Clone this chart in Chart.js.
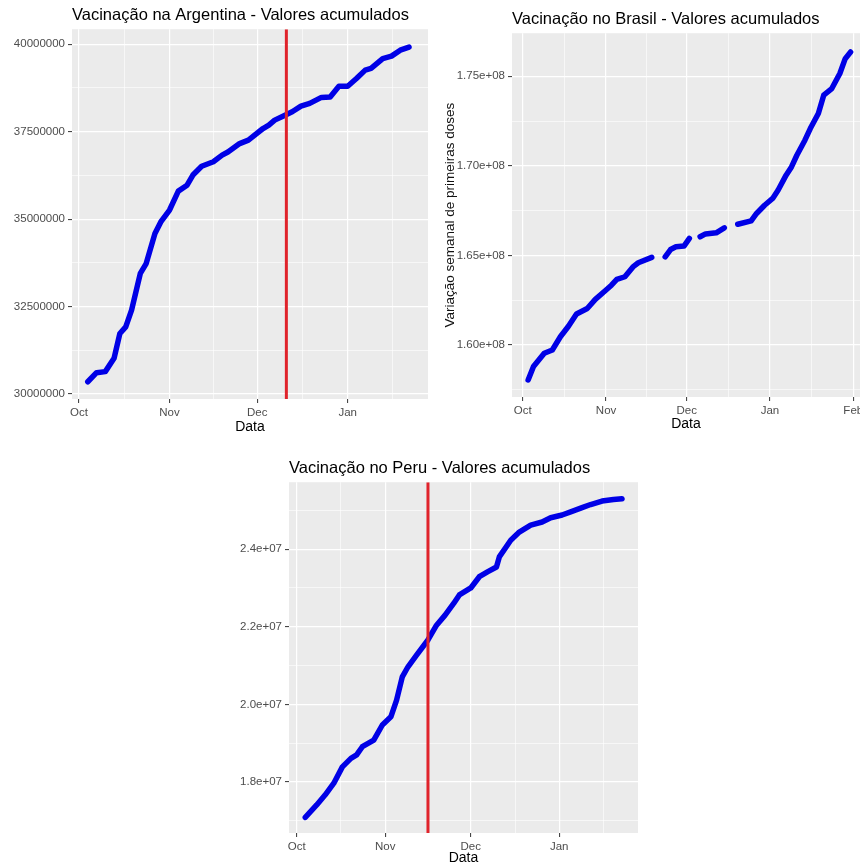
<!DOCTYPE html>
<html>
<head>
<meta charset="utf-8">
<script src="https://cdn.jsdelivr.net/npm/chart.js@4.4.1/dist/chart.umd.min.js"></script>
<style>
  html, body { margin: 0; padding: 0; background: #fff; overflow: hidden; width: 860px; height: 867px; }
  canvas { position: absolute; }
</style>
</head>
<body>
<canvas id="argentina" width="430" height="437" style="left:0px;top:0px"></canvas>
<canvas id="brasil" width="450" height="437" style="left:430px;top:0px"></canvas>
<canvas id="peru" width="420" height="430" style="left:220px;top:437px"></canvas>
<script>
// ---- dados ----
const datasArgentina = ['2021-10-04','2021-10-07','2021-10-10','2021-10-13','2021-10-15','2021-10-17','2021-10-19','2021-10-22','2021-10-24','2021-10-27','2021-10-29',
  '2021-11-01','2021-11-04','2021-11-07','2021-11-09','2021-11-12','2021-11-16','2021-11-19','2021-11-21','2021-11-25','2021-11-28',
  '2021-12-03','2021-12-05','2021-12-07','2021-12-10','2021-12-13','2021-12-16','2021-12-19','2021-12-23','2021-12-26','2021-12-29',
  '2022-01-01','2022-01-04','2022-01-07','2022-01-09','2022-01-13','2022-01-16','2022-01-19','2022-01-22'];
const valoresArgentina = [30350000,30610000,30640000,31020000,31730000,31920000,32400000,33450000,33730000,34590000,34920000,
  35260000,35800000,35970000,36260000,36510000,36640000,36830000,36920000,37160000,37260000,
  37590000,37690000,37830000,37950000,38070000,38230000,38310000,38480000,38490000,38800000,
  38800000,39020000,39260000,39310000,39590000,39660000,39830000,39920000];
const marcoArgentina = '2021-12-11';

// null = dia sem dado (quebra na linha)
const datasBrasil = ['2021-10-03','2021-10-05','2021-10-09','2021-10-12','2021-10-15','2021-10-18','2021-10-21','2021-10-25','2021-10-28',
  '2021-11-01','2021-11-03','2021-11-05','2021-11-08','2021-11-11','2021-11-13','2021-11-18','2021-11-20','2021-11-23','2021-11-25','2021-11-27','2021-11-30',
  '2021-12-02','2021-12-04','2021-12-06','2021-12-08','2021-12-12','2021-12-15','2021-12-17','2021-12-20','2021-12-25','2021-12-27','2021-12-30',
  '2022-01-02','2022-01-04','2022-01-07','2022-01-09','2022-01-11','2022-01-14','2022-01-16','2022-01-19','2022-01-21','2022-01-24','2022-01-27','2022-01-29','2022-01-31'];
const valoresBrasil = [158050000,158800000,159540000,159720000,160460000,161050000,161730000,162040000,162550000,
  163070000,163340000,163660000,163810000,164360000,164590000,164890000,null,164920000,165330000,165480000,165520000,
  165950000,null,166040000,166200000,166260000,166540000,null,166740000,166930000,167340000,167800000,
  168180000,168640000,169480000,169940000,170590000,171430000,172080000,172920000,173940000,174310000,175150000,175980000,176350000];

const datasPeru = ['2021-10-04','2021-10-08','2021-10-11','2021-10-14','2021-10-17','2021-10-20','2021-10-22','2021-10-24','2021-10-28','2021-10-31',
  '2021-11-03','2021-11-05','2021-11-07','2021-11-09','2021-11-12','2021-11-16','2021-11-19','2021-11-22','2021-11-25','2021-11-27',
  '2021-12-01','2021-12-04','2021-12-07','2021-12-10','2021-12-11','2021-12-15','2021-12-18','2021-12-22','2021-12-26','2021-12-29',
  '2022-01-02','2022-01-05','2022-01-09','2022-01-12','2022-01-16','2022-01-20','2022-01-23'];
const valoresPeru = [17090000,17410000,17670000,17970000,18390000,18610000,18700000,18910000,19080000,19470000,
  19680000,20110000,20710000,20970000,21270000,21660000,22040000,22300000,22600000,22820000,
  23000000,23290000,23420000,23540000,23800000,24230000,24440000,24620000,24700000,24810000,
  24880000,24960000,25070000,25150000,25240000,25280000,25300000];
const marcoPeru = '2021-11-16';

const mesesTicks = ['2021-10-01','2021-11-01','2021-12-01','2022-01-01','2022-02-01'];
const mesesLabels = ['Oct','Nov','Dec','Jan','Feb'];

const yTicksArgentina = [30000000,32500000,35000000,37500000,40000000];
const yLabelsArgentina = ['30000000','32500000','35000000','37500000','40000000'];
const yTicksBrasil = [160000000,165000000,170000000,175000000];
const yLabelsBrasil = ['1.60e+08','1.65e+08','1.70e+08','1.75e+08'];
const yTicksPeru = [18000000,20000000,22000000,24000000];
const yLabelsPeru = ['1.8e+07','2.0e+07','2.2e+07','2.4e+07'];

// ---- helpers ----
const inicio = Date.parse('2021-10-01');
function dia(d){ return (Date.parse(d) - inicio) / 86400000; }

Chart.defaults.font.family = '"Liberation Sans", Arial, sans-serif';

// linhas secundárias no meio das principais (como o ggplot faz)
function menores(maiores){
  let res = [];
  for (let i = 0; i < maiores.length - 1; i++) res.push((maiores[i] + maiores[i + 1]) / 2);
  let n = maiores.length;
  res.push(maiores[0] - (maiores[1] - maiores[0]) / 2);
  res.push(maiores[n - 1] + (maiores[n - 1] - maiores[n - 2]) / 2);
  return res;
}

function montarTicks(scale, maiores, labels){
  let ticks = maiores.map((v, i) => ({value: v, texto: labels[i], principal: true}));
  menores(maiores).forEach(v => ticks.push({value: v, texto: '', principal: false}));
  scale.ticks = ticks.filter(t => t.value >= scale.min && t.value <= scale.max).sort((a, b) => a.value - b.value);
}

const grade = {
  color: '#ffffff',
  lineWidth: c => (c.tick && c.tick.principal) ? 1.2 : 0.6,
  tickColor: c => (c.tick && c.tick.principal) ? '#333333' : 'rgba(0,0,0,0)',
  tickWidth: 1,
  tickLength: 4
};

const fundoPainel = {
  id: 'fundoPainel',
  beforeDraw(chart){
    const {ctx, chartArea: a} = chart;
    ctx.save();
    ctx.fillStyle = '#ffffff';
    ctx.fillRect(0, 0, chart.width, chart.height);
    ctx.fillStyle = '#ebebeb';
    ctx.fillRect(a.left, a.top, a.right - a.left, a.bottom - a.top);
    ctx.restore();
  }
};

function criarGrafico(id, cfg){
  let pontos = cfg.datas.map((d, i) => ({x: dia(d), y: cfg.valores[i]}));
  let datasets = [];
  if (cfg.marco) {
    datasets.push({
      data: [{x: dia(cfg.marco), y: cfg.yMin}, {x: dia(cfg.marco), y: cfg.yMax}],
      borderColor: '#e0232b', borderWidth: 3, pointRadius: 0, borderCapStyle: 'butt'
    });
  }
  datasets.push({
    data: pontos,
    borderColor: '#0000e6', borderWidth: 5.5, pointRadius: 0,
    spanGaps: false, tension: 0, borderJoinStyle: 'round', borderCapStyle: 'round'
  });

  let yEscala = {
    type: 'linear', min: cfg.yMin, max: cfg.yMax,
    border: {display: false},
    grid: grade,
    afterBuildTicks: s => montarTicks(s, cfg.yTicks, cfg.yLabels),
    afterFit: s => { s.width = cfg.larguraY; },
    ticks: {
      autoSkip: false, color: '#4d4d4d', font: {size: 11.5}, padding: 3,
      callback: (v, i, t) => t[i].texto
    }
  };
  if (cfg.tituloY) {
    yEscala.title = {display: true, text: cfg.tituloY, color: '#111', font: {size: 13.5}, padding: {top: cfg.padTituloY, bottom: 0}};
  }

  return new Chart(document.getElementById(id), {
    type: 'line',
    data: {datasets: datasets},
    plugins: [fundoPainel],
    options: {
      responsive: false,
      animation: false,
      events: [],
      layout: {padding: {left: 0, top: 0, bottom: 0, right: cfg.padDireita}},
      plugins: {
        legend: {display: false},
        tooltip: {enabled: false},
        title: {
          display: true, text: cfg.titulo, align: 'start', fullSize: false,
          color: '#000', font: {size: 16.5, weight: 'normal'},
          padding: {top: cfg.padTitulo, bottom: 4}
        }
      },
      scales: {
        x: {
          type: 'linear', min: cfg.xMin, max: cfg.xMax,
          border: {display: false},
          grid: grade,
          afterBuildTicks: s => montarTicks(s, mesesTicks.map(dia), mesesLabels),
          afterFit: s => { s.height = cfg.alturaX; },
          ticks: {
            autoSkip: false, maxRotation: 0, color: '#4d4d4d', font: {size: 11.5}, padding: 3,
            callback: (v, i, t) => t[i].texto
          },
          title: {display: true, text: 'Data', color: '#000', font: {size: 14}, padding: {top: 0, bottom: cfg.padData}}
        },
        y: yEscala
      }
    }
  });
}

criarGrafico('argentina', {
  titulo: 'Vacinação na Argentina - Valores acumulados',
  datas: datasArgentina, valores: valoresArgentina, marco: marcoArgentina,
  xMin: -2.4, xMax: 119.5, yMin: 29857000, yMax: 40430000,
  yTicks: yTicksArgentina, yLabels: yLabelsArgentina,
  larguraY: 72, alturaX: 38, padDireita: 2, padTitulo: 5.4, padData: 1.6
});

criarGrafico('brasil', {
  titulo: 'Vacinação no Brasil - Valores acumulados',
  datas: datasBrasil, valores: valoresBrasil,
  xMin: -4, xMax: 125.5, yMin: 157100000, yMax: 177400000,
  yTicks: yTicksBrasil, yLabels: yLabelsBrasil,
  tituloY: 'Variação semanal de primeiras doses', padTituloY: 12,
  larguraY: 82, alturaX: 40, padDireita: 20, padTitulo: 9.4, padData: 4.6
});

criarGrafico('peru', {
  titulo: 'Vacinação no Peru - Valores acumulados',
  datas: datasPeru, valores: valoresPeru, marco: marcoPeru,
  xMin: -2.7, xMax: 119.6, yMin: 16687000, yMax: 25725000,
  yTicks: yTicksPeru, yLabels: yLabelsPeru,
  larguraY: 69, alturaX: 34, padDireita: 2, padTitulo: 21.4, padData: 0
});
</script>
</body>
</html>
